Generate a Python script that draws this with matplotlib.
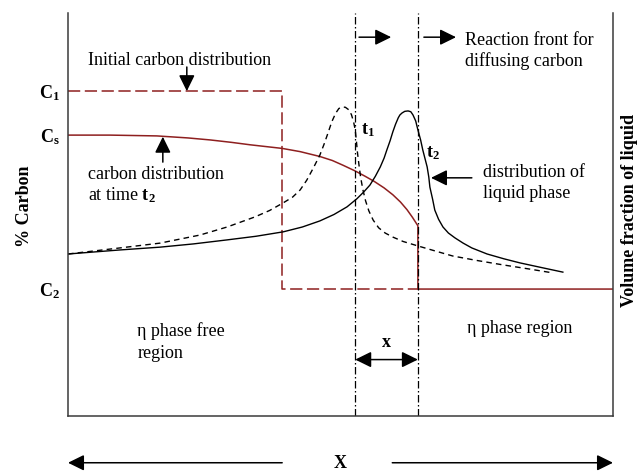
import matplotlib
matplotlib.use("Agg")
import matplotlib.pyplot as plt

plt.rcParams["font.family"] = ["Liberation Serif", "DejaVu Serif"]
plt.rcParams["mathtext.fontset"] = "custom"
plt.rcParams["mathtext.rm"] = "Liberation Serif"
plt.rcParams["mathtext.it"] = "Liberation Serif:italic"
plt.rcParams["mathtext.bf"] = "Liberation Serif:bold"

# Schematic levels (distance 0-10, % carbon 0-10)
C1 = 8.06
Cs = 6.97
C2 = 3.15
step_x = 3.93
front_t1 = 5.27
front_t2 = 6.42

# Carbon distribution at time t2
carbon_x = [0, 0.77, 1.63, 2.20, 2.61, 3.00, 3.34, 3.93, 4.26, 4.62, 4.85,
            5.05, 5.27, 5.45, 5.62, 5.80, 5.96, 6.10, 6.22, 6.32, 6.42]
carbon_y = [6.97, 6.97, 6.95, 6.90, 6.85, 6.79, 6.73, 6.64, 6.56, 6.44, 6.34,
            6.22, 6.08, 5.95, 5.82, 5.66, 5.49, 5.31, 5.12, 4.93, 4.72]

# Volume fraction of liquid at t1 (dashed)
liq1_x = [0, 0.95, 1.69, 2.42, 2.92, 3.43, 3.70, 3.95, 4.12, 4.26, 4.38,
          4.50, 4.62, 4.70, 4.77, 4.84, 4.91, 4.97, 5.03, 5.09, 5.15, 5.20,
          5.24, 5.27, 5.29, 5.31, 5.34, 5.37, 5.41, 5.46, 5.52, 5.60, 5.70,
          5.82, 5.96, 6.15, 6.42, 6.75, 7.06, 7.50, 7.98, 8.45, 8.90]
liq1_y = [4.02, 4.17, 4.29, 4.49, 4.69, 4.94, 5.10, 5.29, 5.43, 5.61, 5.85,
          6.15, 6.47, 6.75, 7.02, 7.30, 7.51, 7.63, 7.67, 7.66, 7.60, 7.48,
          7.30, 7.10, 6.85, 6.55, 6.22, 5.92, 5.62, 5.34, 5.09, 4.86, 4.67,
          4.54, 4.44, 4.33, 4.22, 4.09, 3.97, 3.86, 3.75, 3.65, 3.55]

# Volume fraction of liquid at t2 (solid)
liq2_x = [0, 0.95, 1.69, 2.30, 2.92, 3.45, 3.95, 4.30, 4.62, 4.88, 5.12,
          5.30, 5.42, 5.54, 5.64, 5.73, 5.80, 5.85, 5.91, 5.96, 6.01, 6.06,
          6.09, 6.13, 6.18, 6.24, 6.29, 6.33, 6.38, 6.42, 6.47, 6.51, 6.55,
          6.59, 6.62, 6.64, 6.69, 6.73, 6.80, 6.88, 6.98, 7.10, 7.25, 7.41,
          7.69, 8.00, 8.29, 8.70, 9.08]
liq2_y = [4.02, 4.12, 4.19, 4.27, 4.37, 4.46, 4.57, 4.69, 4.84, 5.00, 5.19,
          5.39, 5.55, 5.73, 5.95, 6.18, 6.40, 6.60, 6.83, 7.05, 7.24, 7.40,
          7.47, 7.52, 7.56, 7.57, 7.55, 7.47, 7.32, 7.10, 6.85, 6.60, 6.39,
          6.18, 5.93, 5.68, 5.38, 5.11, 4.88, 4.69, 4.54, 4.42, 4.29, 4.17,
          4.02, 3.90, 3.80, 3.68, 3.57]

RED = "#8e1f1f"

fig = plt.figure(figsize=(6.38, 4.72), dpi=100)
ax = fig.add_axes([68 / 638, 1 - 416 / 472, 545 / 638, 403 / 472])
ax.set_xlim(0, 10)
ax.set_ylim(0, 10)
ax.set_xticks([])
ax.set_yticks([])
ax.spines["top"].set_visible(False)
for s in ("left", "bottom", "right"):
    ax.spines[s].set_color("#3a3a3a")
    ax.spines[s].set_linewidth(1.1)

# Initial carbon distribution (step)
ax.plot([0, step_x, step_x, front_t2], [C1, C1, C2, C2], color=RED, lw=1.1,
        linestyle=(0, (8, 3)))
# Carbon distribution at t2
ax.plot(carbon_x + [front_t2, 10], carbon_y + [C2, C2], color=RED, lw=1.1)

# Liquid phase distributions
ax.plot(liq1_x, liq1_y, color="black", lw=1.0, linestyle=(0, (4, 3)))
ax.plot(liq2_x, liq2_y, color="black", lw=1.0)

# Reaction fronts
for fx in (front_t1, front_t2):
    ax.axvline(fx, color="black", lw=0.9, linestyle=(0, (6, 2, 1.2, 2)))

head = "-|>,head_length=0.65,head_width=0.32"
ap = dict(arrowstyle=head, color="black", lw=1.1, mutation_scale=15,
          shrinkA=0, shrinkB=0)
dap = dict(arrowstyle="<|-|>,head_length=0.65,head_width=0.32",
           color="black", lw=1.1, mutation_scale=15, shrinkA=0, shrinkB=0)

fs = 13

ax.text(0.37, 8.83, "Initial carbon distribution", fontsize=fs,
        va="center", ha="left")
ax.annotate("", xy=(2.18, C1), xytext=(2.18, 8.66), arrowprops=ap)

ax.text(0.37, 6.00, "carbon distribution", fontsize=fs, va="center")
ax.text(0.37, 5.48, r"at time $\mathbf{t_2}$", fontsize=fs, va="center")
ax.annotate("", xy=(1.74, 6.93), xytext=(1.74, 6.30), arrowprops=ap)

ax.text(5.37, 7.10, r"$\mathbf{t_1}$", fontsize=fs, va="center")
ax.text(6.57, 6.53, r"$\mathbf{t_2}$", fontsize=fs, va="center")

ax.text(7.61, 6.05, "distribution of", fontsize=fs, va="center")
ax.text(7.61, 5.53, "liquid phase", fontsize=fs, va="center")
ax.annotate("", xy=(6.66, 5.91), xytext=(7.41, 5.91), arrowprops=ap)

ax.text(7.28, 9.33, "Reaction front for", fontsize=fs, va="center")
ax.text(7.28, 8.81, "diffusing carbon", fontsize=fs, va="center")
ax.annotate("", xy=(5.93, 9.40), xytext=(5.34, 9.40), arrowprops=ap)
ax.annotate("", xy=(7.12, 9.40), xytext=(6.53, 9.40), arrowprops=ap)

ax.text(1.27, 2.11, "\u03b7 phase free", fontsize=fs, va="center")
ax.text(1.27, 1.56, "region", fontsize=fs, va="center")
ax.text(7.32, 2.18, "\u03b7 phase region", fontsize=fs, va="center")

ax.text((front_t1 + front_t2) / 2, 1.82, "x", fontsize=fs, fontweight="bold",
        ha="center", va="center")
ax.annotate("", xy=(front_t2, 1.40), xytext=(front_t1, 1.40), arrowprops=dap)

# Level labels on the left
for lbl, lv in ((r"$\mathbf{C_1}$", C1), (r"$\mathbf{C_s}$", Cs),
                (r"$\mathbf{C_2}$", C2)):
    ax.text(-0.15, lv - 0.05, lbl, fontsize=fs, ha="right", va="center",
            clip_on=False)

ax.text(-0.80, 5.2, "% Carbon", fontsize=fs, fontweight="bold", rotation=90,
        ha="center", va="center", clip_on=False)
ax.text(10.31, 5.1, "Volume fraction of liquid", fontsize=fs,
        fontweight="bold", rotation=90, ha="center", va="center",
        clip_on=False)

# Distance axis below the plot
ax.text(5.0, -1.19, "X", fontsize=fs, fontweight="bold", ha="center",
        va="center", clip_on=False)
ax.annotate("", xy=(0, -1.16), xytext=(step_x, -1.16), arrowprops=ap,
            annotation_clip=False)
ax.annotate("", xy=(10, -1.16), xytext=(5.95, -1.16), arrowprops=ap,
            annotation_clip=False)

fig.savefig("out.png", dpi=100)
